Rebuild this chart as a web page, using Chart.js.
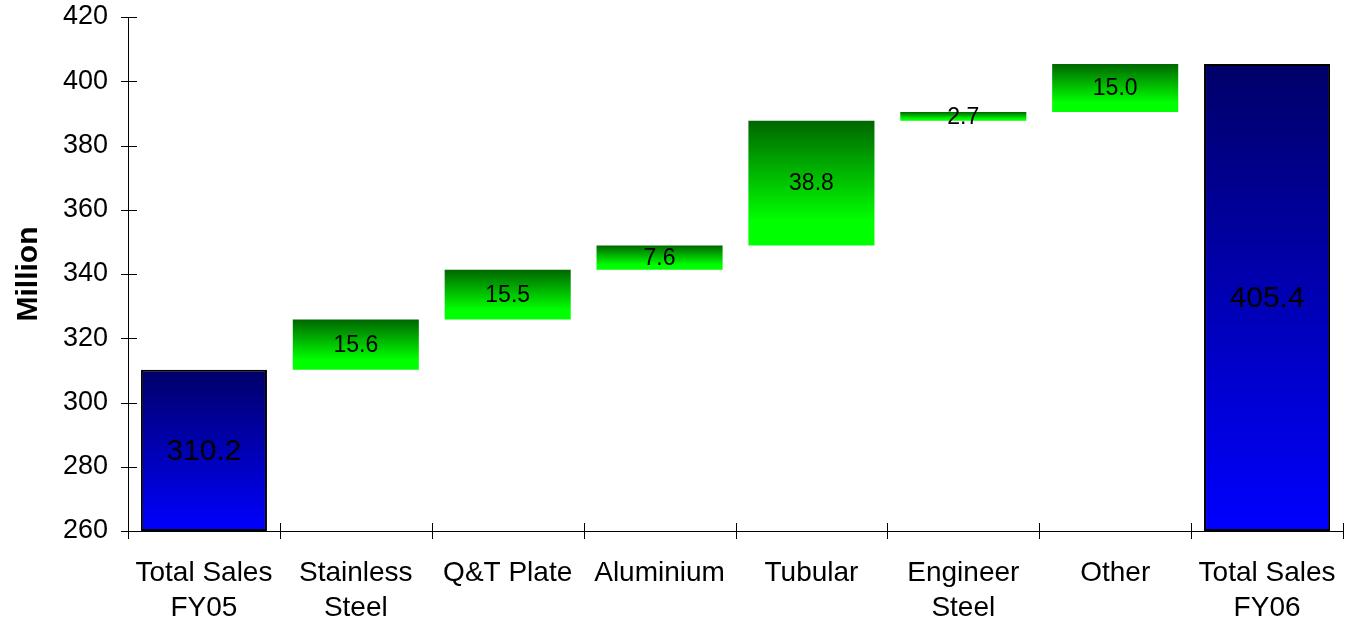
<!DOCTYPE html>
<html>
<head>
<meta charset="utf-8">
<script src="https://cdn.jsdelivr.net/npm/chart.js@4/dist/chart.umd.min.js"></script>
<style>
  html, body { margin: 0; padding: 0; background: #ffffff; }
  #wrap { width: 1346px; height: 621px; position: relative; }
</style>
</head>
<body>
<div id="wrap"><canvas id="chart"></canvas></div>
<script>
// Sales bridge FY05 -> FY06, in millions
const categories = [
  ['Total Sales', 'FY05'],
  ['Stainless', 'Steel'],
  'Q&T Plate',
  'Aluminium',
  'Tubular',
  ['Engineer', 'Steel'],
  'Other',
  ['Total Sales', 'FY06']
];
const startTotal = 310.2;
const increments = [15.6, 15.5, 7.6, 38.8, 2.7, 15.0];
const endTotal = 405.4;
const yTicks = [260, 280, 300, 320, 340, 360, 380, 400, 420];

// floating [low, high] ranges for each column
const ranges = [];
const labelValues = [];
const isTotal = [];
ranges.push([yTicks[0], startTotal]);
labelValues.push(startTotal);
isTotal.push(true);
let running = startTotal;
increments.forEach(v => {
  ranges.push([running, running + v]);
  labelValues.push(v);
  isTotal.push(false);
  running += v;
});
ranges.push([yTicks[0], endTotal]);
labelValues.push(endTotal);
isTotal.push(true);

const FONT = '"Liberation Sans", Arial, sans-serif';

function barFill(ctx) {
  const chart = ctx.chart;
  const i = ctx.dataIndex;
  if (!chart.chartArea || !chart.scales.y || i === undefined) {
    return isTotal[i] ? '#0000cc' : '#00cc00';
  }
  const ys = chart.scales.y;
  const top = ys.getPixelForValue(ranges[i][1]);
  const bot = ys.getPixelForValue(ranges[i][0]);
  const g = chart.ctx.createLinearGradient(0, top, 0, Math.max(bot, top + 1));
  if (isTotal[i]) {
    g.addColorStop(0, '#000068');
    g.addColorStop(1, '#0000ff');
  } else {
    g.addColorStop(0, '#006600');
    g.addColorStop(0.8, '#00ff00');
    g.addColorStop(1, '#00ff00');
  }
  return g;
}

// value labels centred in each bar
const valueLabels = {
  id: 'valueLabels',
  afterDatasetsDraw(chart) {
    const c = chart.ctx;
    const meta = chart.getDatasetMeta(0);
    c.save();
    c.fillStyle = '#000000';
    c.textAlign = 'center';
    c.textBaseline = 'middle';
    meta.data.forEach((el, i) => {
      c.font = (isTotal[i] ? '30px ' : '23px ') + FONT;
      c.fillText(labelValues[i].toFixed(1), el.x, (el.y + el.base) / 2 + 1);
    });
    c.restore();
  }
};

// tick marks crossing both axes
const crossTicks = {
  id: 'crossTicks',
  afterDraw(chart) {
    const c = chart.ctx;
    const xs = chart.scales.x, ys = chart.scales.y;
    const area = chart.chartArea;
    c.save();
    c.strokeStyle = '#000000';
    c.lineWidth = 1;
    c.beginPath();
    ys.ticks.forEach(t => {
      const y = Math.round(ys.getPixelForValue(t.value)) + 0.5;
      c.moveTo(area.left - 7, y);
      c.lineTo(area.left + 9, y);
    });
    const n = categories.length;
    for (let k = 0; k <= n; k++) {
      const x = Math.round(xs.left + (xs.width * k) / n) + 0.5;
      c.moveTo(x, area.bottom - 8);
      c.lineTo(x, area.bottom + 8);
    }
    c.stroke();
    c.restore();
  }
};

new Chart(document.getElementById('chart'), {
  type: 'bar',
  data: {
    labels: categories,
    datasets: [{
      data: ranges,
      backgroundColor: barFill,
      borderColor: '#000000',
      borderWidth: ctx => (isTotal[ctx.dataIndex] ? 2 : 0),
      borderSkipped: false,
      barPercentage: 0.83,
      categoryPercentage: 1.0
    }]
  },
  options: {
    responsive: true,
    maintainAspectRatio: false,
    animation: false,
    layout: { padding: { top: 17, right: 3, left: 0, bottom: 0 } },
    plugins: {
      legend: { display: false },
      tooltip: { enabled: false }
    },
    scales: {
      x: {
        grid: { display: false, tickLength: 25 },
        border: { display: true, color: '#000000', width: 1 },
        ticks: {
          color: '#000000',
          font: { family: FONT, size: 28, lineHeight: 1.25 },
          padding: 0,
          maxRotation: 0,
          autoSkip: false
        },
        afterFit(scale) { scale.height = 90; }
      },
      y: {
        min: yTicks[0],
        max: yTicks[yTicks.length - 1],
        afterBuildTicks(scale) { scale.ticks = yTicks.map(v => ({ value: v })); },
        grid: { display: false, tickLength: 20 },
        border: { display: true, color: '#000000', width: 1 },
        ticks: {
          color: '#000000',
          font: { family: FONT, size: 27 },
          padding: 0
        },
        title: {
          display: true,
          text: 'Million',
          color: '#000000',
          font: { family: FONT, size: 30, weight: 'bold' },
          padding: { top: 11, bottom: 0 }
        },
        afterFit(scale) { scale.width = 128; }
      }
    }
  },
  plugins: [valueLabels, crossTicks]
});
</script>
</body>
</html>
